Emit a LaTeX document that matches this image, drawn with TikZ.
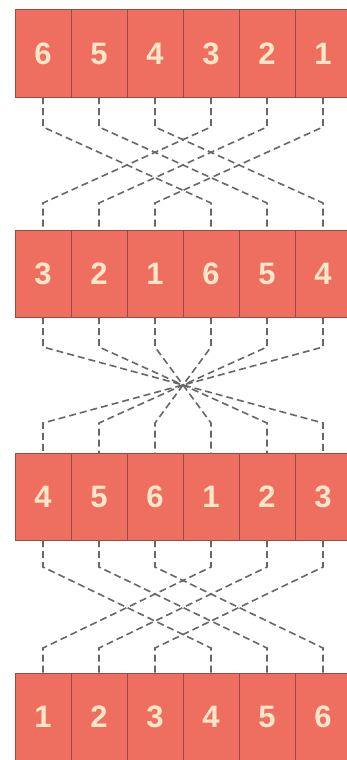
\documentclass[tikz,border=0pt]{standalone}
\usepackage{fontspec}
\setmainfont{Liberation Sans}
\usetikzlibrary{calc}
\definecolor{cellfill}{HTML}{EE6F5F}
\definecolor{celldraw}{HTML}{9A4A40}
\definecolor{celltext}{HTML}{FBE6C8}
\definecolor{linkgray}{HTML}{676767}
\tikzset{
  cell/.style={draw=celldraw, line width=1pt, fill=cellfill, minimum width=56pt, minimum height=87pt,
    inner sep=0pt, outer sep=0pt, anchor=north west, text=celltext, font=\fontsize{31}{31}\selectfont\bfseries},
  link/.style={draw=linkgray, line width=1.6pt, dash pattern=on 7pt off 4pt}
}
\begin{document}
\begin{tikzpicture}[x=1pt,y=-1pt]
\useasboundingbox (0,0) rectangle (347,760);
\fill[white] (0,0) rectangle (347,760);
% rows
\foreach \v [count=\j from 0] in {6,5,4,3,2,1} \node[cell] (a\j) at (15+56*\j,10) {\v};
\foreach \v [count=\j from 0] in {3,2,1,6,5,4} \node[cell] (b\j) at (15+56*\j,230) {\v};
\foreach \v [count=\j from 0] in {4,5,6,1,2,3} \node[cell] (c\j) at (15+56*\j,453) {\v};
\foreach \v [count=\j from 0] in {1,2,3,4,5,6} \node[cell] (d\j) at (15+56*\j,673) {\v};
% row 1 -> row 2 : shift by three
\foreach \i/\k in {0/3,1/4,2/5,3/0,4/1,5/2}
  \draw[link] (a\i.south) -- ++(0,30) -- ($(b\k.north)+(0,-27)$) -- (b\k.north);
% row 2 -> row 3 : reversal through a common point
\coordinate (mid) at ($(b2.south east)!0.5!(c2.north east)$);
\foreach \i/\k in {0/5,1/4,2/3,3/2,4/1,5/0}
  \draw[link] (b\i.south) -- ++(0,30) -- (mid) -- ($(c\k.north)+(0,-30)$) -- (c\k.north);
% row 3 -> row 4 : shift by three
\foreach \i/\k in {0/3,1/4,2/5,3/0,4/1,5/2}
  \draw[link] (c\i.south) -- ++(0,27) -- ($(d\k.north)+(0,-25)$) -- (d\k.north);
\end{tikzpicture}
\end{document}
